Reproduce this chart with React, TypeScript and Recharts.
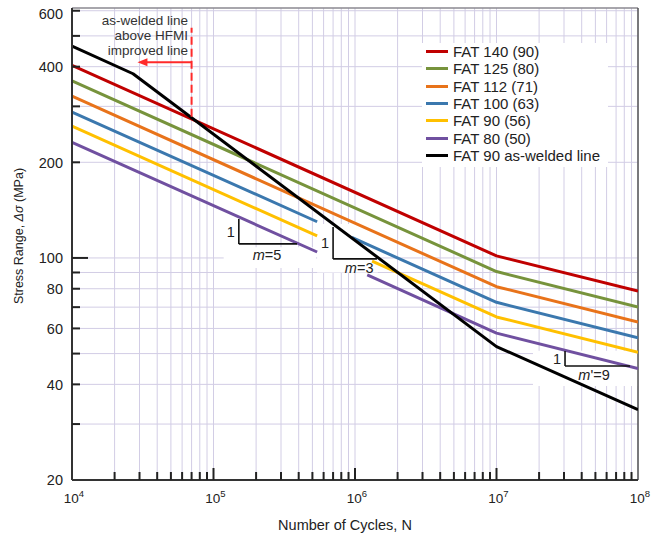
import React from 'react';
import {
  LineChart, Line, XAxis, YAxis, CartesianGrid, Legend,
  ReferenceArea, ReferenceLine, ReferenceDot,
} from 'recharts';

const FONT = '"Liberation Sans", Arial, Helvetica, sans-serif';

// cycles at 1e4, at the knee (1e7) and at 1e8
const N_FULL = [1e4, 1e7, 1e8];
const FAT140 = [404, 101.5, 78.6];
const FAT125 = [361, 90.6, 70.1];
const FAT112 = [323, 81.2, 62.8];

// these three are hidden under the m=3 label box (null = gap)
const N_FAT100 = [1e4, 5.4e5, 7e5, 9.5e5, 1e7, 1e8];
const FAT100 = [288, 130, null, 116, 72.5, 56.1];
const N_FAT90 = [1e4, 5.4e5, 9e5, 1.32e6, 1e7, 1e8];
const FAT90 = [260, 117.3, null, 97.8, 65.2, 50.5];
const N_FAT80 = [1e4, 5.4e5, 9e5, 1.22e6, 1e7, 1e8];
const FAT80 = [231, 104.4, null, 88.5, 58.0, 44.9];

const N_WELDED = [1e4, 2.7e4, 1e7, 1e8];
const WELDED = [464, 380, 52.6, 33.3];

const LABELS = [
  'FAT 140 (90)', 'FAT 125 (80)', 'FAT 112 (71)', 'FAT 100 (63)',
  'FAT 90 (56)', 'FAT 80 (50)', 'FAT 90 as-welded line',
];
const COLORS = ['#C00000', '#77933C', '#E8731A', '#3B78AE', '#FFC000', '#7050A0', '#000000'];

const X_DECADES = [1e4, 1e5, 1e6, 1e7, 1e8];
const X_MANTISSA = [1, 2, 3, 4, 5, 6, 7, 8, 9];
const Y_LABELS = [20, 40, 60, 80, 100, 200, 400, 600];
const Y_GRID = [20, 30, 40, 50, 60, 70, 80, 90, 100, 200, 300, 400, 500, 600];

const X_TICKS = X_DECADES.slice(0, -1)
  .flatMap(d => X_MANTISSA.map(k => k * d))
  .concat([1e8]);

const rows = (n: number[], s: (number | null)[]) => n.map((N, i) => ({ N, S: s[i] }));

const series = [
  rows(N_FULL, FAT140),
  rows(N_FULL, FAT125),
  rows(N_FULL, FAT112),
  rows(N_FAT100, FAT100),
  rows(N_FAT90, FAT90),
  rows(N_FAT80, FAT80),
  rows(N_WELDED, WELDED),
];

// slope triangles: vertical at x0 from yTop to yBase, then horizontal to x1
const TRIANGLES = [
  { x0: 1.51e5, x1: 3.89e5, yTop: 132.7, yBase: 110.7, lx: 2.39e5, ly: 102.2, text: '=5' },
  { x0: 7.0e5, x1: 1.43e6, yTop: 125.2, yBase: 99.3, lx: 1.07e6, ly: 93.0, text: '=3' },
  { x0: 3.05e7, x1: 8.77e7, yTop: 50.9, yBase: 45.7, lx: 4.89e7, ly: 42.9, text: "'=9" },
];

// white label boxes that cut the grid
const WHITE_BOXES = [
  { x1: 1.18e5, x2: 5.3e5, y1: 93, y2: 108 },
  { x1: 5.4e5, x2: 1.45e6, y1: 90, y2: 128 },
  { x1: 1.81e7, x2: 1e8, y1: 39.5, y2: 51 },
];

const XTick = (props: any) => {
  const { x, y, payload } = props;
  const v = payload.value;
  const major = X_DECADES.includes(v);
  const exp = Math.round(Math.log10(v));
  return (
    <g>
      {v !== 1e4 && v !== 1e8 && (
        <line x1={x} x2={x} y1={y} y2={y - (major ? 12 : 8)} stroke="#222" strokeWidth={2} />
      )}
      {major && (
        <text x={x + 2} y={y + 23} textAnchor="middle" fontSize={13.5} fill="#222" fontFamily={FONT}>
          10<tspan dy={-6} fontSize={9.5}>{exp}</tspan>
        </text>
      )}
    </g>
  );
};

const YTick = (props: any) => {
  const { x, y, payload } = props;
  const v = payload.value;
  return (
    <g>
      {v !== 20 && (
        <line x1={x} x2={x + (v === 100 ? 16 : 8)} y1={y} y2={y} stroke="#222" strokeWidth={2} />
      )}
      {Y_LABELS.includes(v) && (
        <text x={x - 9} y={v === 600 ? y + 3 : y} dy="0.36em" textAnchor="end" fontSize={14.5} fill="#222" fontFamily={FONT}>
          {v}
        </text>
      )}
    </g>
  );
};

const LegendBox = () => (
  <div style={{ background: '#fff', width: 186, height: 124, fontFamily: FONT }}>
    {LABELS.map((l, i) => (
      <div key={l} style={{ display: 'flex', alignItems: 'center', height: 17.33 }}>
        <span style={{ display: 'inline-block', width: 22, height: 3, background: COLORS[i], marginLeft: 4, marginRight: 5 }} />
        <span style={{ fontSize: 15, color: '#222', whiteSpace: 'nowrap', lineHeight: '17px' }}>{l}</span>
      </div>
    ))}
  </div>
);

const Arrow = (p: any) => {
  const { x1, y1, x2, y2 } = p;
  return (
    <g>
      <line x1={x1} y1={y1} x2={x2 + 6} y2={y2} stroke="#FF2A2A" strokeWidth={2} />
      <path d={`M${x2},${y2} L${x2 + 10},${y2 - 4} L${x2 + 10},${y2 + 4} Z`} fill="#FF2A2A" />
    </g>
  );
};

export default function App() {
  return (
    <div style={{ position: 'absolute', left: 0, top: 0, width: 654, height: 535, background: '#fff' }}>
      <LineChart width={654} height={535} margin={{ top: 8, right: 16, bottom: 0, left: 0 }}>
        <CartesianGrid stroke="#D2CDE5" strokeWidth={1} />
        <XAxis
          dataKey="N" type="number" scale="log" domain={[1e4, 1e8]} allowDataOverflow
          ticks={X_TICKS} interval={0} height={55} tickSize={0} tickMargin={0}
          tickLine={false} axisLine={{ stroke: '#333', strokeWidth: 2 }} tick={<XTick />}
          label={() => (
            <text x={345} y={530} textAnchor="middle" fontSize={14.5} fill="#222" fontFamily={FONT}>
              Number of Cycles, N
            </text>
          )}
        />
        <YAxis
          type="number" scale="log" domain={[20, 612]} allowDataOverflow
          ticks={Y_GRID} interval={0} width={72} tickSize={0} tickMargin={0}
          tickLine={false} axisLine={{ stroke: '#333', strokeWidth: 2 }} tick={<YTick />}
          label={() => (
            <text x={19} y={236} transform="rotate(-90 19 236)" textAnchor="middle" dominantBaseline="central"
              fontSize={12.5} fill="#222" fontFamily={FONT}>
              Stress Range, <tspan fontStyle="italic">Δσ</tspan> (MPa)
            </text>
          )}
        />
        {WHITE_BOXES.map((b, i) => (
          <ReferenceArea key={`wb${i}`} x1={b.x1} x2={b.x2} y1={b.y1} y2={b.y2}
            fill="#fff" fillOpacity={1} stroke="none" ifOverflow="visible" />
        ))}
        <ReferenceLine y={612} stroke="#666" strokeWidth={1} ifOverflow="visible" />
        <ReferenceLine x={1e8} stroke="#555" strokeWidth={1.5} ifOverflow="visible" />

        {series.map((d, i) => (
          <Line
            key={LABELS[i]} data={d} dataKey="S" name={LABELS[i]} type="linear"
            stroke={COLORS[i]} strokeWidth={3} dot={false} activeDot={false}
            connectNulls={false} isAnimationActive={false} strokeLinejoin="round"
          />
        ))}

        {TRIANGLES.map((t, i) => (
          <ReferenceLine key={`tv${i}`} segment={[{ x: t.x0, y: t.yTop }, { x: t.x0, y: t.yBase }]}
            stroke="#111" strokeWidth={1.6} ifOverflow="visible" />
        ))}
        {TRIANGLES.map((t, i) => (
          <ReferenceLine key={`th${i}`} segment={[{ x: t.x0, y: t.yBase }, { x: t.x1, y: t.yBase }]}
            stroke="#111" strokeWidth={1.6} ifOverflow="visible" />
        ))}
        {TRIANGLES.map((t, i) => (
          <ReferenceDot key={`t1${i}`} x={t.x0} y={Math.sqrt(t.yTop * t.yBase)} r={0} ifOverflow="visible"
            shape={(p: any) => (
              <text x={p.cx - 4} y={p.cy} dy="0.36em" textAnchor="end" fontSize={14.5} fill="#222" fontFamily={FONT}>1</text>
            )}
          />
        ))}
        {TRIANGLES.map((t, i) => (
          <ReferenceDot key={`tm${i}`} x={t.lx} y={t.ly} r={0} ifOverflow="visible"
            shape={(p: any) => (
              <text x={p.cx} y={p.cy} dy="0.36em" textAnchor="middle" fontSize={14.5} fill="#222" fontFamily={FONT}>
                <tspan fontStyle="italic">m</tspan>{t.text}
              </text>
            )}
          />
        ))}

        <ReferenceLine segment={[{ x: 7e4, y: 278 }, { x: 7e4, y: 530 }]}
          stroke="#FF2A2A" strokeWidth={2} strokeDasharray="8 4" ifOverflow="visible" />
        <ReferenceLine segment={[{ x: 7e4, y: 413 }, { x: 2.9e4, y: 413 }]} ifOverflow="visible" shape={Arrow} />
        <ReferenceDot x={6.6e4} y={562} r={0} ifOverflow="visible"
          shape={(p: any) => (
            <text x={p.cx} y={p.cy} textAnchor="end" fontSize={13.5} fill="#333" fontFamily={FONT}>
              <tspan x={p.cx} dy="0.36em">as-welded line</tspan>
              <tspan x={p.cx} dy={15}>above HFMI</tspan>
              <tspan x={p.cx} dy={15}>improved line</tspan>
            </text>
          )}
        />

        <Legend
          content={<LegendBox />} layout="vertical" align="center" verticalAlign="middle"
          wrapperStyle={{ left: 422, top: 43, width: 186, height: 124 }}
        />
      </LineChart>
    </div>
  );
}
